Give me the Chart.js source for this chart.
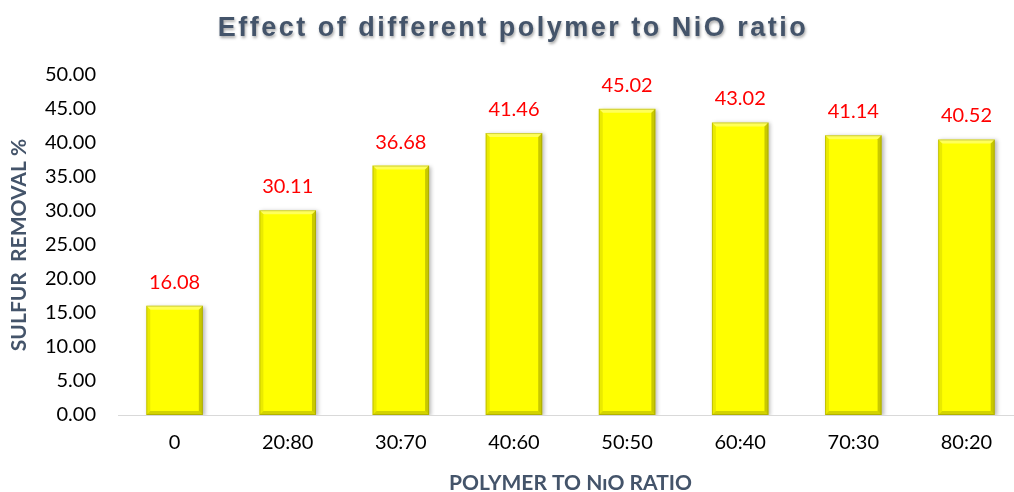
<!DOCTYPE html>
<html>
<head>
<meta charset="utf-8">
<script src="https://cdn.jsdelivr.net/npm/chart.js@4.4.1/dist/chart.umd.min.js"></script>
<style>
  html, body { margin: 0; padding: 0; background: #ffffff; overflow: hidden; }
  #wrap { width: 1030px; height: 492px; }
</style>
</head>
<body>
<div id="wrap"><canvas id="chart" width="1030" height="492"></canvas></div>
<script>
// Sulfur removal for each polymer : NiO ratio
const chartTitle = 'Effect of different polymer to NiO ratio';
const categories = ['0', '20:80', '30:70', '40:60', '50:50', '60:40', '70:30', '80:20'];
const removal = [16.08, 30.11, 36.68, 41.46, 45.02, 43.02, 41.14, 40.52];
const yMin = 0;
const yMax = 50;
const yStep = 5;
const xAxisTitle = 'POLYMER TO N\u026AO RATIO';
const yAxisTitle = 'SULFUR  REMOVAL %';

const FONT = 'Lato, "Open Sans", sans-serif';
const SLATE = '#44546A';

// Soft drop shadow under the bars
const barShadow = {
  id: 'barShadow',
  beforeDatasetDraw(chart) {
    const ctx = chart.ctx;
    ctx.save();
    ctx.shadowColor = 'rgba(0,0,0,0.28)';
    ctx.shadowBlur = 4;
    ctx.shadowOffsetX = 2;
    ctx.shadowOffsetY = 1;
  },
  afterDatasetDraw(chart) {
    chart.ctx.restore();
  }
};

// Bevelled edges on each bar, plus the value written above it
const barBevelAndLabels = {
  id: 'barBevelAndLabels',
  afterDatasetsDraw(chart) {
    const ctx = chart.ctx;
    const meta = chart.getDatasetMeta(0);
    const data = chart.data.datasets[0].data;
    const b = 4;
    meta.data.forEach((bar, i) => {
      const l = bar.x - bar.width / 2;
      const r = bar.x + bar.width / 2;
      const t = Math.min(bar.y, bar.base);
      const bot = Math.max(bar.y, bar.base);
      ctx.save();
      const poly = (pts, fill) => {
        ctx.beginPath();
        ctx.moveTo(pts[0][0], pts[0][1]);
        for (let k = 1; k < pts.length; k++) ctx.lineTo(pts[k][0], pts[k][1]);
        ctx.closePath();
        ctx.fillStyle = fill;
        ctx.fill();
      };
      // top
      poly([[l, t], [r, t], [r - b, t + b], [l + b, t + b]], 'rgba(255,255,200,0.45)');
      // left
      poly([[l, t], [l + b, t + b], [l + b, bot - b], [l, bot]], 'rgba(160,160,0,0.22)');
      // right
      poly([[r, t], [r, bot], [r - b, bot - b], [r - b, t + b]], 'rgba(110,110,0,0.38)');
      // bottom
      poly([[l, bot], [l + b, bot - b], [r - b, bot - b], [r, bot]], 'rgba(130,130,0,0.35)');
      // thin outline
      ctx.strokeStyle = 'rgba(120,120,0,0.35)';
      ctx.lineWidth = 1;
      ctx.strokeRect(l + 0.5, t + 0.5, r - l - 1, bot - t - 1);
      ctx.restore();

      ctx.save();
      ctx.font = '20px ' + FONT;
      ctx.fillStyle = '#FF0000';
      ctx.textAlign = 'center';
      ctx.textBaseline = 'alphabetic';
      ctx.fillText(data[i].toFixed(2), bar.x, t - 17);
      ctx.restore();
    });
  }
};

// Heading with wide letter spacing and a drop shadow
const headline = {
  id: 'headline',
  afterDraw(chart) {
    const ctx = chart.ctx;
    ctx.save();
    ctx.font = 'bold 27px "Liberation Sans", Arial, sans-serif';
    if ('letterSpacing' in ctx) ctx.letterSpacing = '2.5px';
    ctx.fillStyle = SLATE;
    ctx.textAlign = 'center';
    ctx.textBaseline = 'alphabetic';
    ctx.shadowColor = 'rgba(0,0,0,0.35)';
    ctx.shadowBlur = 3;
    ctx.shadowOffsetX = 1;
    ctx.shadowOffsetY = 2;
    ctx.fillText(chartTitle, 513, 36);
    ctx.restore();
  }
};

new Chart(document.getElementById('chart'), {
  type: 'bar',
  data: {
    labels: categories,
    datasets: [{
      data: removal,
      backgroundColor: '#FFFF00',
      borderWidth: 0,
      barPercentage: 0.5,
      categoryPercentage: 1.0
    }]
  },
  options: {
    responsive: false,
    animation: false,
    layout: { padding: { top: 75, right: 7, left: 0, bottom: 0 } },
    plugins: {
      legend: { display: false },
      title: { display: false },
      tooltip: { enabled: false }
    },
    scales: {
      x: {
        grid: { display: false, drawTicks: false },
        border: { display: true, color: '#D9D9D9', width: 1 },
        ticks: { color: '#000000', font: { family: FONT, size: 20 }, padding: 16 },
        title: {
          display: true, text: xAxisTitle, color: SLATE,
          font: { family: FONT, size: 21, weight: 'bold', lineHeight: 1.0 },
          padding: { top: 0, bottom: -2 }
        },
        afterFit(scale) { scale.height = 77; }
      },
      y: {
        min: yMin, max: yMax,
        grid: { display: false, drawTicks: false },
        border: { display: false },
        ticks: {
          stepSize: yStep, color: '#000000', padding: 22,
          font: { family: FONT, size: 20 },
          callback: (v) => Number(v).toFixed(2)
        },
        title: {
          display: true, text: yAxisTitle, color: SLATE,
          font: { family: FONT, size: 21, weight: 'bold', lineHeight: 1.0 },
          padding: { top: 9, bottom: 0 }
        },
        afterFit(scale) { scale.width = 118; }
      }
    }
  },
  plugins: [barShadow, barBevelAndLabels, headline]
});
</script>
</body>
</html>
